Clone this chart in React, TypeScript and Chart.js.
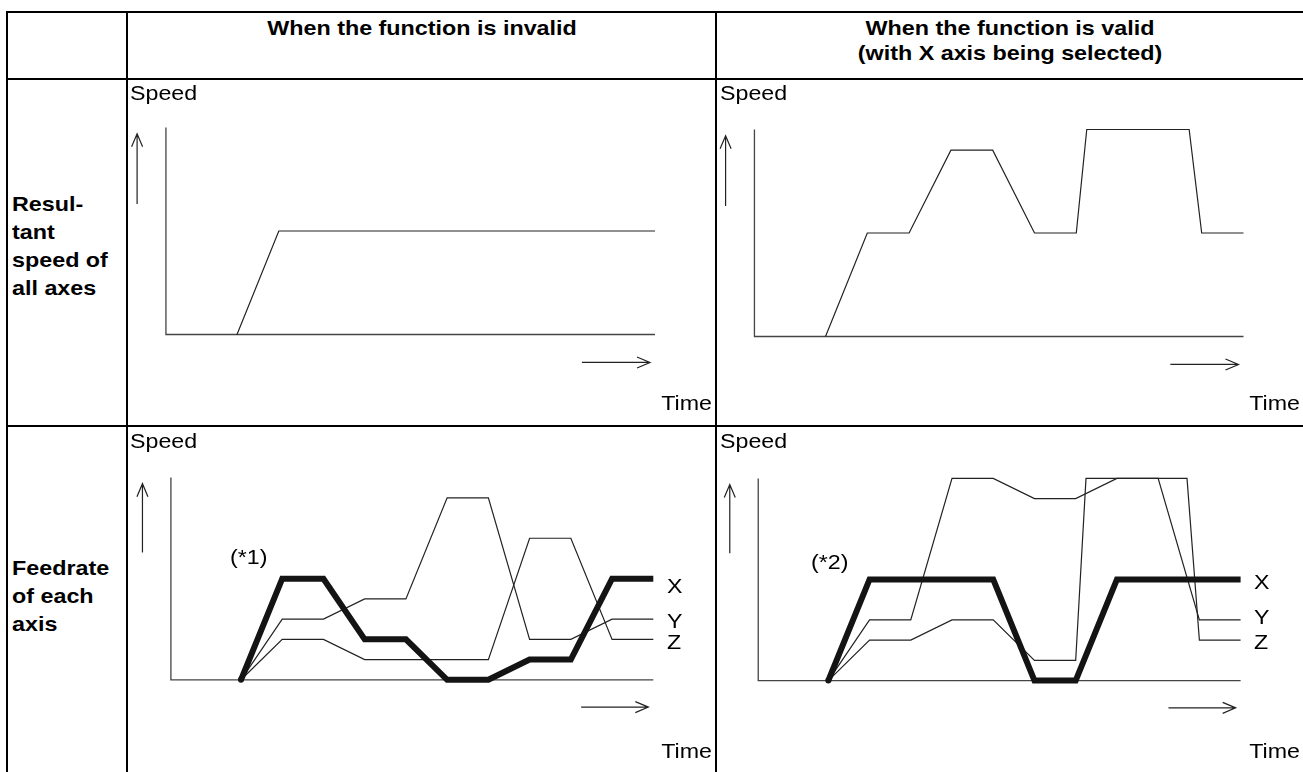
import React, { useEffect, useRef } from "react";
import { Chart, registerables } from "chart.js";

Chart.register(...registerables);

// ---------------- data ----------------
const headerInvalid = ["When the function is invalid"];
const headerValid = ["When the function is valid", "(with X axis being selected)"];
const rowResultant = ["Resul-", "tant", "speed of", "all axes"];
const rowFeedrate = ["Feedrate", "of each", "axis"];
const axisNames = ["X", "Y", "Z"];

// time in steps, speed in arbitrary units
const frameTime = [-1.7, -1.7, 10];
const frameSpeed = [10, 0, 0];

const invalidResultantTime = [0, 1, 10];
const invalidResultantSpeed = [0, 5, 5];

const validResultantTime = [0, 1, 2, 3, 4, 5, 6, 6.25, 8.7, 9, 10];
const validResultantSpeed = [0, 5, 5, 9, 9, 5, 5, 10, 10, 5, 5];

const stepTime = [0, 1, 2, 3, 4, 5, 6, 7, 8, 9, 10];
const invalidX = [0, 5, 5, 2, 2, 0, 0, 1, 1, 5, 5];
const invalidY = [0, 3, 3, 4, 4, 9, 9, 2, 2, 3, 3];
const invalidZ = [0, 2, 2, 1, 1, 1, 1, 7, 7, 2, 2];

const validXTime = [0, 1, 4, 5, 6, 7, 10];
const validX = [0, 5, 5, 0, 0, 5, 5];
const validY = [0, 3, 3, 10, 10, 9, 9, 10, 10, 3, 3];
const validZTime = [0, 1, 2, 3, 4, 5, 6, 6.25, 8.7, 9, 10];
const validZ = [0, 2, 2, 3, 3, 1, 1, 10, 10, 2, 2];

// ---------------- rendering ----------------
const FONT = "'Liberation Sans', Arial, Helvetica, sans-serif";
const STEP_PX = 41.8;
const UNIT_PX = 20.7;

type Kind = "frame" | "thin" | "thick";
type Series = { t: number[]; v: number[]; kind: Kind };
type Rect = { left: number; top: number; w: number; h: number };

const arrowPlugin = {
  id: "arrows",
  afterDatasetsDraw(chart: any) {
    const xs = chart.scales.x;
    const ys = chart.scales.y;
    const ctx = chart.ctx;
    ctx.save();
    ctx.strokeStyle = "#222";
    ctx.lineWidth = 1.2;
    ctx.lineCap = "butt";
    // up arrow
    const ux = xs.getPixelForValue(-2.39);
    const uTop = ys.getPixelForValue(9.7);
    const uBot = ys.getPixelForValue(6.3);
    ctx.beginPath();
    ctx.moveTo(ux, uBot);
    ctx.lineTo(ux, uTop);
    ctx.moveTo(ux - 5.5, uTop + 13);
    ctx.lineTo(ux, uTop);
    ctx.lineTo(ux + 5.5, uTop + 13);
    ctx.stroke();
    // right arrow
    const rx1 = xs.getPixelForValue(8.25);
    const rx2 = xs.getPixelForValue(9.88);
    const ry = ys.getPixelForValue(-1.35);
    ctx.beginPath();
    ctx.moveTo(rx1, ry);
    ctx.lineTo(rx2, ry);
    ctx.moveTo(rx2 - 13, ry - 5.5);
    ctx.lineTo(rx2, ry);
    ctx.lineTo(rx2 - 13, ry + 5.5);
    ctx.stroke();
    ctx.restore();
  },
};

function MiniChart({ rect, origin, series }: { rect: Rect; origin: { x: number; y: number }; series: Series[] }) {
  const ref = useRef<HTMLCanvasElement>(null);
  useEffect(() => {
    if (!ref.current) return;
    const xmin = (rect.left - origin.x) / STEP_PX;
    const xmax = (rect.left + rect.w - origin.x) / STEP_PX;
    const ymax = (origin.y - rect.top) / UNIT_PX;
    const ymin = (origin.y - rect.top - rect.h) / UNIT_PX;
    const chart = new Chart(ref.current, {
      type: "line",
      data: {
        datasets: series.map((s) => ({
          data: s.t.map((t, i) => ({ x: t, y: s.v[i] })),
          borderColor: s.kind === "thick" ? "#141414" : s.kind === "frame" ? "#444" : "#222",
          backgroundColor: s.kind === "thick" ? "#141414" : "#222",
          borderWidth: s.kind === "thick" ? 6 : s.kind === "frame" ? 1.3 : 1.2,
          borderCapStyle: "butt",
          borderJoinStyle: "miter",
          pointRadius: (c: any) => (s.kind === "thick" && c.dataIndex === 0 ? 3 : 0),
          pointBorderWidth: 0,
          tension: 0,
          fill: false,
          clip: false,
          order: s.kind === "thick" ? 0 : s.kind === "thin" ? 1 : 2,
        })),
      },
      options: {
        responsive: false,
        animation: false,
        devicePixelRatio: 1,
        events: [],
        layout: { padding: 0 },
        plugins: { legend: { display: false }, tooltip: { enabled: false }, title: { display: false } },
        scales: {
          x: { type: "linear", min: xmin, max: xmax, display: false },
          y: { type: "linear", min: ymin, max: ymax, display: false },
        },
      },
      plugins: [arrowPlugin],
    } as any);
    return () => chart.destroy();
  }, []);
  return (
    <canvas
      ref={ref}
      width={rect.w}
      height={rect.h}
      style={{ position: "absolute", left: rect.left, top: rect.top, width: rect.w, height: rect.h }}
    />
  );
}

function Label({
  x,
  y,
  text,
  size = 20,
  bold = false,
  align = "left",
  sx = 1.16,
}: {
  x: number;
  y: number;
  text: string;
  size?: number;
  bold?: boolean;
  align?: "left" | "right" | "center";
  sx?: number;
}) {
  const base = 0.8465 * size;
  const origin = align === "left" ? "0% 50%" : align === "right" ? "100% 50%" : "50% 50%";
  const tx = align === "left" ? "" : align === "right" ? "translateX(-100%) " : "translateX(-50%) ";
  return (
    <span
      style={{
        position: "absolute",
        left: x,
        top: y - base,
        fontFamily: FONT,
        fontSize: size,
        lineHeight: size + "px",
        fontWeight: bold ? 700 : 400,
        whiteSpace: "nowrap",
        color: "#000",
        transformOrigin: origin,
        transform: tx + "scaleX(" + sx + ")",
      }}
    >
      {text}
    </span>
  );
}

function HLine({ y, x1, x2 }: { y: number; x1: number; x2: number }) {
  return <div style={{ position: "absolute", left: x1, top: y, width: x2 - x1, height: 2, background: "#000" }} />;
}
function VLine({ x, y1, y2 }: { x: number; y1: number; y2: number }) {
  return <div style={{ position: "absolute", left: x, top: y1, width: 2, height: y2 - y1, background: "#000" }} />;
}

export default function App() {
  const frame: Series = { t: frameTime, v: frameSpeed, kind: "frame" };
  const c1: Series[] = [{ t: invalidResultantTime, v: invalidResultantSpeed, kind: "thin" }, frame];
  const c2: Series[] = [{ t: validResultantTime, v: validResultantSpeed, kind: "thin" }, frame];
  const c3: Series[] = [
    { t: stepTime, v: invalidX, kind: "thick" },
    { t: stepTime, v: invalidY, kind: "thin" },
    { t: stepTime, v: invalidZ, kind: "thin" },
    frame,
  ];
  const c4: Series[] = [
    { t: validXTime, v: validX, kind: "thick" },
    { t: stepTime, v: validY, kind: "thin" },
    { t: validZTime, v: validZ, kind: "thin" },
    frame,
  ];

  const B = 21;
  const BSX = 1.11;

  return (
    <div
      style={{
        position: "fixed",
        left: 0,
        top: 0,
        width: 1303,
        height: 772,
        overflow: "hidden",
        background: "#fff",
      }}
    >
      <MiniChart rect={{ left: 128, top: 80, w: 587, h: 345 }} origin={{ x: 237, y: 334.5 }} series={c1} />
      <MiniChart rect={{ left: 717, top: 80, w: 586, h: 345 }} origin={{ x: 825.5, y: 336.5 }} series={c2} />
      <MiniChart rect={{ left: 128, top: 427, w: 587, h: 345 }} origin={{ x: 238.5, y: 681.7 }} series={c3} />
      <MiniChart rect={{ left: 717, top: 427, w: 586, h: 345 }} origin={{ x: 825.8, y: 682.5 }} series={c4} />

      {/* table grid */}
      <HLine y={11} x1={6} x2={1320} />
      <HLine y={78} x1={6} x2={1320} />
      <HLine y={425} x1={6} x2={1320} />
      <VLine x={6} y1={11} y2={800} />
      <VLine x={126} y1={11} y2={800} />
      <VLine x={715} y1={11} y2={800} />

      {/* headers */}
      <Label x={421.5} y={35} text={headerInvalid[0]} bold size={B} sx={BSX} align="center" />
      <Label x={1010} y={35} text={headerValid[0]} bold size={B} sx={BSX} align="center" />
      <Label x={1010} y={60} text={headerValid[1]} bold size={B} sx={BSX} align="center" />

      {/* row labels */}
      {rowResultant.map((s, i) => (
        <Label key={"r" + i} x={12} y={211 + 28 * i} text={s} bold size={B} sx={BSX} />
      ))}
      {rowFeedrate.map((s, i) => (
        <Label key={"f" + i} x={12} y={575 + 28 * i} text={s} bold size={B} sx={BSX} />
      ))}

      {/* axis captions */}
      <Label x={129.5} y={99.5} text="Speed" />
      <Label x={720} y={99.5} text="Speed" />
      <Label x={129.5} y={447.5} text="Speed" />
      <Label x={720} y={447.5} text="Speed" />
      <Label x={711.5} y={409.5} text="Time" align="right" />
      <Label x={1300} y={409.5} text="Time" align="right" />
      <Label x={711.5} y={757.5} text="Time" align="right" />
      <Label x={1300} y={757.5} text="Time" align="right" />

      {/* notes */}
      <Label x={230} y={564} text="(*1)" />
      <Label x={811} y={569} text="(*2)" />

      {/* series names */}
      <Label x={666.5} y={593} text={axisNames[0]} />
      <Label x={666.5} y={628} text={axisNames[1]} />
      <Label x={666.5} y={649} text={axisNames[2]} />
      <Label x={1254} y={589} text={axisNames[0]} />
      <Label x={1254} y={624} text={axisNames[1]} />
      <Label x={1254} y={649} text={axisNames[2]} />
    </div>
  );
}
